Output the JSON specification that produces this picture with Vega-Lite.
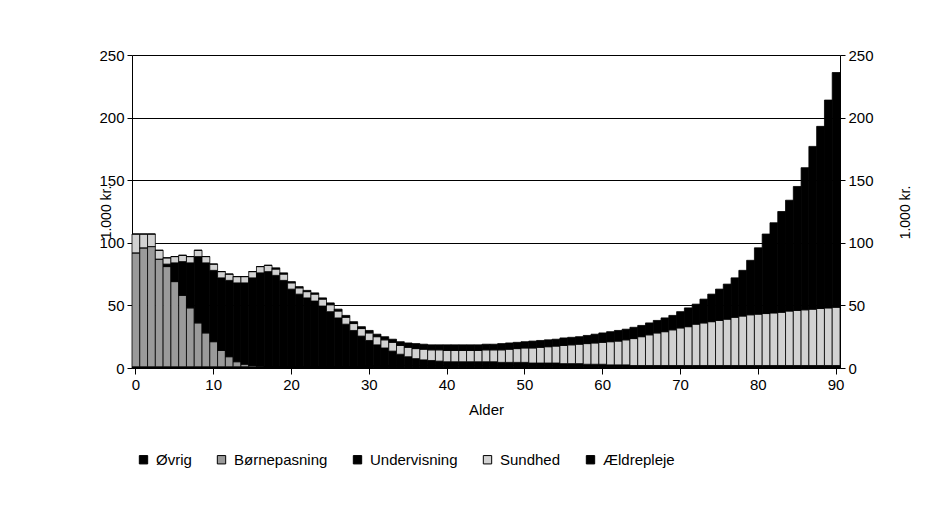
{
  "$schema": "https://vega.github.io/schema/vega-lite/v6.json",
  "autosize": {"type": "none"},
  "width": 708,
  "height": 313,
  "padding": {"left": 132, "top": 55, "right": 109, "bottom": 152},
  "background": "white",
  "data": {"values": [
    {"a":0,"Øvrig":1,"Børnepasning":91,"Undervisning":0,"Sundhed":15,"Ældrepleje":0},
    {"a":1,"Øvrig":1,"Børnepasning":95,"Undervisning":0,"Sundhed":11,"Ældrepleje":0},
    {"a":2,"Øvrig":1,"Børnepasning":96,"Undervisning":0,"Sundhed":10,"Ældrepleje":0},
    {"a":3,"Øvrig":1,"Børnepasning":86,"Undervisning":0,"Sundhed":7,"Ældrepleje":0},
    {"a":4,"Øvrig":1,"Børnepasning":80,"Undervisning":2,"Sundhed":5,"Ældrepleje":0},
    {"a":5,"Øvrig":1,"Børnepasning":68,"Undervisning":15,"Sundhed":5,"Ældrepleje":0},
    {"a":6,"Øvrig":1,"Børnepasning":57,"Undervisning":27,"Sundhed":5,"Ældrepleje":0},
    {"a":7,"Øvrig":1,"Børnepasning":47,"Undervisning":36,"Sundhed":5,"Ældrepleje":0},
    {"a":8,"Øvrig":1,"Børnepasning":35,"Undervisning":53,"Sundhed":5,"Ældrepleje":0},
    {"a":9,"Øvrig":1,"Børnepasning":27,"Undervisning":56,"Sundhed":5,"Ældrepleje":0},
    {"a":10,"Øvrig":1,"Børnepasning":20,"Undervisning":57,"Sundhed":5,"Ældrepleje":0},
    {"a":11,"Øvrig":1,"Børnepasning":13,"Undervisning":58,"Sundhed":5,"Ældrepleje":0},
    {"a":12,"Øvrig":1,"Børnepasning":8,"Undervisning":61,"Sundhed":5,"Ældrepleje":0},
    {"a":13,"Øvrig":1,"Børnepasning":4,"Undervisning":63,"Sundhed":5,"Ældrepleje":0},
    {"a":14,"Øvrig":1,"Børnepasning":2,"Undervisning":65,"Sundhed":5,"Ældrepleje":0},
    {"a":15,"Øvrig":1,"Børnepasning":1,"Undervisning":70,"Sundhed":5,"Ældrepleje":0},
    {"a":16,"Øvrig":1,"Børnepasning":0.5,"Undervisning":74.5,"Sundhed":5,"Ældrepleje":0},
    {"a":17,"Øvrig":1,"Børnepasning":0,"Undervisning":76,"Sundhed":5,"Ældrepleje":0},
    {"a":18,"Øvrig":1,"Børnepasning":0,"Undervisning":73,"Sundhed":5,"Ældrepleje":1},
    {"a":19,"Øvrig":1,"Børnepasning":0,"Undervisning":69,"Sundhed":5,"Ældrepleje":1},
    {"a":20,"Øvrig":1,"Børnepasning":0,"Undervisning":62,"Sundhed":5,"Ældrepleje":1},
    {"a":21,"Øvrig":1,"Børnepasning":0,"Undervisning":58,"Sundhed":5,"Ældrepleje":1},
    {"a":22,"Øvrig":1,"Børnepasning":0,"Undervisning":55,"Sundhed":5,"Ældrepleje":1},
    {"a":23,"Øvrig":1,"Børnepasning":0,"Undervisning":52.5,"Sundhed":5.5,"Ældrepleje":1},
    {"a":24,"Øvrig":1,"Børnepasning":0,"Undervisning":48.5,"Sundhed":5.5,"Ældrepleje":1},
    {"a":25,"Øvrig":1,"Børnepasning":0,"Undervisning":44,"Sundhed":5.5,"Ældrepleje":1.5},
    {"a":26,"Øvrig":1,"Børnepasning":0,"Undervisning":39,"Sundhed":5.5,"Ældrepleje":1.5},
    {"a":27,"Øvrig":1,"Børnepasning":0,"Undervisning":34,"Sundhed":5.5,"Ældrepleje":1.5},
    {"a":28,"Øvrig":1,"Børnepasning":0,"Undervisning":29,"Sundhed":5.5,"Ældrepleje":1.5},
    {"a":29,"Øvrig":1,"Børnepasning":0,"Undervisning":24.5,"Sundhed":6,"Ældrepleje":1.5},
    {"a":30,"Øvrig":1.5,"Børnepasning":0,"Undervisning":20.5,"Sundhed":6,"Ældrepleje":2},
    {"a":31,"Øvrig":1.5,"Børnepasning":0,"Undervisning":17,"Sundhed":6.5,"Ældrepleje":2},
    {"a":32,"Øvrig":1.5,"Børnepasning":0,"Undervisning":14.5,"Sundhed":6.5,"Ældrepleje":2.5},
    {"a":33,"Øvrig":2,"Børnepasning":0,"Undervisning":11.5,"Sundhed":7,"Ældrepleje":2.5},
    {"a":34,"Øvrig":2,"Børnepasning":0,"Undervisning":9,"Sundhed":7,"Ældrepleje":3},
    {"a":35,"Øvrig":2,"Børnepasning":0,"Undervisning":7,"Sundhed":7.5,"Ældrepleje":3.5},
    {"a":36,"Øvrig":2,"Børnepasning":0,"Undervisning":5.5,"Sundhed":8,"Ældrepleje":4},
    {"a":37,"Øvrig":2,"Børnepasning":0,"Undervisning":4.5,"Sundhed":8.5,"Ældrepleje":4},
    {"a":38,"Øvrig":2,"Børnepasning":0,"Undervisning":4,"Sundhed":8.5,"Ældrepleje":4},
    {"a":39,"Øvrig":2,"Børnepasning":0,"Undervisning":3.5,"Sundhed":9,"Ældrepleje":4},
    {"a":40,"Øvrig":2,"Børnepasning":0,"Undervisning":3,"Sundhed":9,"Ældrepleje":4.5},
    {"a":41,"Øvrig":2,"Børnepasning":0,"Undervisning":3,"Sundhed":9,"Ældrepleje":4.5},
    {"a":42,"Øvrig":2,"Børnepasning":0,"Undervisning":3,"Sundhed":9,"Ældrepleje":4.5},
    {"a":43,"Øvrig":2,"Børnepasning":0,"Undervisning":3,"Sundhed":9,"Ældrepleje":4.5},
    {"a":44,"Øvrig":2,"Børnepasning":0,"Undervisning":3,"Sundhed":9,"Ældrepleje":4.5},
    {"a":45,"Øvrig":2,"Børnepasning":0,"Undervisning":3,"Sundhed":9.5,"Ældrepleje":4.5},
    {"a":46,"Øvrig":2,"Børnepasning":0,"Undervisning":3,"Sundhed":9.5,"Ældrepleje":4.5},
    {"a":47,"Øvrig":2,"Børnepasning":0,"Undervisning":2.5,"Sundhed":10,"Ældrepleje":5},
    {"a":48,"Øvrig":2,"Børnepasning":0,"Undervisning":2.5,"Sundhed":10.5,"Ældrepleje":5},
    {"a":49,"Øvrig":2,"Børnepasning":0,"Undervisning":2.5,"Sundhed":11,"Ældrepleje":5},
    {"a":50,"Øvrig":2,"Børnepasning":0,"Undervisning":2.5,"Sundhed":11.5,"Ældrepleje":5},
    {"a":51,"Øvrig":2,"Børnepasning":0,"Undervisning":2,"Sundhed":12,"Ældrepleje":5.5},
    {"a":52,"Øvrig":2,"Børnepasning":0,"Undervisning":2,"Sundhed":12.5,"Ældrepleje":5.5},
    {"a":53,"Øvrig":2,"Børnepasning":0,"Undervisning":2,"Sundhed":13,"Ældrepleje":5.5},
    {"a":54,"Øvrig":2,"Børnepasning":0,"Undervisning":2,"Sundhed":13.5,"Ældrepleje":5.5},
    {"a":55,"Øvrig":2,"Børnepasning":0,"Undervisning":1.5,"Sundhed":14.5,"Ældrepleje":6},
    {"a":56,"Øvrig":2,"Børnepasning":0,"Undervisning":1.5,"Sundhed":15,"Ældrepleje":6},
    {"a":57,"Øvrig":2,"Børnepasning":0,"Undervisning":1.5,"Sundhed":15.5,"Ældrepleje":6},
    {"a":58,"Øvrig":2,"Børnepasning":0,"Undervisning":1,"Sundhed":16.5,"Ældrepleje":6.5},
    {"a":59,"Øvrig":2,"Børnepasning":0,"Undervisning":1,"Sundhed":17,"Ældrepleje":7},
    {"a":60,"Øvrig":2,"Børnepasning":0,"Undervisning":1,"Sundhed":17.5,"Ældrepleje":7.5},
    {"a":61,"Øvrig":2,"Børnepasning":0,"Undervisning":0.5,"Sundhed":18.5,"Ældrepleje":8},
    {"a":62,"Øvrig":2,"Børnepasning":0,"Undervisning":0.5,"Sundhed":19,"Ældrepleje":8.5},
    {"a":63,"Øvrig":2,"Børnepasning":0,"Undervisning":0.5,"Sundhed":20,"Ældrepleje":8.5},
    {"a":64,"Øvrig":2,"Børnepasning":0,"Undervisning":0,"Sundhed":21.5,"Ældrepleje":9},
    {"a":65,"Øvrig":2,"Børnepasning":0,"Undervisning":0,"Sundhed":23,"Ældrepleje":9},
    {"a":66,"Øvrig":2,"Børnepasning":0,"Undervisning":0,"Sundhed":24.5,"Ældrepleje":9.5},
    {"a":67,"Øvrig":2,"Børnepasning":0,"Undervisning":0,"Sundhed":26,"Ældrepleje":10},
    {"a":68,"Øvrig":2,"Børnepasning":0,"Undervisning":0,"Sundhed":27,"Ældrepleje":11},
    {"a":69,"Øvrig":2,"Børnepasning":0,"Undervisning":0,"Sundhed":28.5,"Ældrepleje":11.5},
    {"a":70,"Øvrig":2,"Børnepasning":0,"Undervisning":0,"Sundhed":30,"Ældrepleje":13},
    {"a":71,"Øvrig":2,"Børnepasning":0,"Undervisning":0,"Sundhed":31,"Ældrepleje":15},
    {"a":72,"Øvrig":2,"Børnepasning":0,"Undervisning":0,"Sundhed":33,"Ældrepleje":16},
    {"a":73,"Øvrig":2,"Børnepasning":0,"Undervisning":0,"Sundhed":34,"Ældrepleje":19},
    {"a":74,"Øvrig":2,"Børnepasning":0,"Undervisning":0,"Sundhed":35,"Ældrepleje":22},
    {"a":75,"Øvrig":2,"Børnepasning":0,"Undervisning":0,"Sundhed":36,"Ældrepleje":25},
    {"a":76,"Øvrig":2,"Børnepasning":0,"Undervisning":0,"Sundhed":37,"Ældrepleje":28},
    {"a":77,"Øvrig":2,"Børnepasning":0,"Undervisning":0,"Sundhed":38.5,"Ældrepleje":31.5},
    {"a":78,"Øvrig":2,"Børnepasning":0,"Undervisning":0,"Sundhed":39.5,"Ældrepleje":36.5},
    {"a":79,"Øvrig":2,"Børnepasning":0,"Undervisning":0,"Sundhed":40.5,"Ældrepleje":43.5},
    {"a":80,"Øvrig":2,"Børnepasning":0,"Undervisning":0,"Sundhed":41,"Ældrepleje":53},
    {"a":81,"Øvrig":2,"Børnepasning":0,"Undervisning":0,"Sundhed":41.5,"Ældrepleje":63.5},
    {"a":82,"Øvrig":2,"Børnepasning":0,"Undervisning":0,"Sundhed":42,"Ældrepleje":72},
    {"a":83,"Øvrig":2,"Børnepasning":0,"Undervisning":0,"Sundhed":42.5,"Ældrepleje":80.5},
    {"a":84,"Øvrig":2,"Børnepasning":0,"Undervisning":0,"Sundhed":43.5,"Ældrepleje":88.5},
    {"a":85,"Øvrig":2,"Børnepasning":0,"Undervisning":0,"Sundhed":44,"Ældrepleje":99},
    {"a":86,"Øvrig":2,"Børnepasning":0,"Undervisning":0,"Sundhed":44.5,"Ældrepleje":113.5},
    {"a":87,"Øvrig":2,"Børnepasning":0,"Undervisning":0,"Sundhed":45,"Ældrepleje":130},
    {"a":88,"Øvrig":2,"Børnepasning":0,"Undervisning":0,"Sundhed":45.5,"Ældrepleje":145.5},
    {"a":89,"Øvrig":2,"Børnepasning":0,"Undervisning":0,"Sundhed":46,"Ældrepleje":166},
    {"a":90,"Øvrig":2,"Børnepasning":0,"Undervisning":0,"Sundhed":46.5,"Ældrepleje":187.5}
  ]},
  "transform": [
    {"fold": ["Øvrig", "Børnepasning", "Undervisning", "Sundhed", "Ældrepleje"], "as": ["serie", "v"]},
    {"lookup": "serie", "from": {"data": {"values": [
      {"serie": "Øvrig", "k": 1}, {"serie": "Børnepasning", "k": 2}, {"serie": "Undervisning", "k": 3},
      {"serie": "Sundhed", "k": 4}, {"serie": "Ældrepleje", "k": 5}]}, "key": "serie", "fields": ["k"]}}
  ],
  "layer": [
    {
      "mark": {"type": "bar", "stroke": "black", "strokeWidth": 0.8},
      "encoding": {
        "x": {"field": "a", "type": "ordinal", "scale": {"paddingInner": 0, "paddingOuter": 0},
          "axis": {"values": [0,10,20,30,40,50,60,70,80,90], "labelAngle": 0, "title": "Alder",
            "domainColor": "black", "tickColor": "black", "tickSize": 6, "labelPadding": 3,
            "labelFontSize": 15, "titleFontSize": 15, "titleFontWeight": "normal", "titlePadding": 10,
            "labelColor": "black", "titleColor": "black", "labelFont": "Liberation Sans", "titleFont": "Liberation Sans"}},
        "y": {"field": "v", "type": "quantitative", "stack": "zero", "scale": {"domain": [0, 250], "nice": false},
          "axis": {"values": [0,50,100,150,200,250], "orient": "left", "title": "1.000 kr.", "grid": true,
            "gridColor": "black", "gridWidth": 1, "gridOpacity": 1, "domainColor": "black", "tickColor": "black", "tickSize": 5,
            "labelPadding": 3, "labelFontSize": 15, "titleFontSize": 14, "titleFontWeight": "normal",
            "titleX": -26, "titleY": 157, "titleAngle": -90, "titleAlign": "center", "titleBaseline": "middle",
            "labelColor": "black", "titleColor": "black", "labelFont": "Liberation Sans", "titleFont": "Liberation Sans"}},
        "color": {"field": "serie", "type": "nominal",
          "sort": ["Øvrig", "Børnepasning", "Undervisning", "Sundhed", "Ældrepleje"],
          "scale": {"domain": ["Øvrig", "Børnepasning", "Undervisning", "Sundhed", "Ældrepleje"],
                    "range": ["#000000", "#9a9a9a", "#000000", "#d2d2d2", "#000000"]},
          "legend": {"orient": "none", "direction": "horizontal", "legendX": 4, "legendY": 397, "title": null,
            "symbolType": "square", "symbolSize": 70, "symbolStrokeColor": "black", "symbolStrokeWidth": 1,
            "labelFontSize": 15, "labelFont": "Liberation Sans", "labelColor": "black", "columnPadding": 22, "symbolOffset": 0, "labelOffset": 5}},
        "order": {"field": "k", "type": "quantitative", "sort": "ascending"}
      }
    },
    {
      "mark": {"type": "bar", "opacity": 0},
      "encoding": {
        "x": {"field": "a", "type": "ordinal"},
        "y": {"field": "v", "type": "quantitative", "stack": "zero",
          "axis": {"values": [0,50,100,150,200,250], "orient": "right", "title": "1.000 kr.", "grid": false,
            "domainColor": "black", "tickColor": "black", "tickSize": 5,
            "labelPadding": 3, "labelFontSize": 15, "titleFontSize": 14, "titleFontWeight": "normal",
            "titleX": 65, "titleY": 157, "titleAngle": -90, "titleAlign": "center", "titleBaseline": "middle",
            "labelColor": "black", "titleColor": "black", "labelFont": "Liberation Sans", "titleFont": "Liberation Sans"}}
      }
    }
  ],
  "resolve": {"axis": {"y": "independent"}},
  "config": {"view": {"stroke": null}}
}
